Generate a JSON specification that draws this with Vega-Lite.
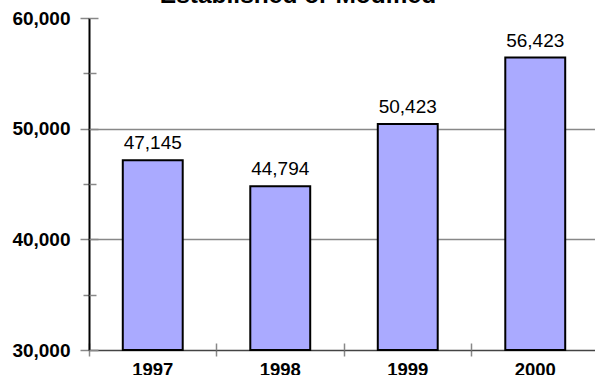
{
  "$schema": "https://vega.github.io/schema/vega-lite/v6.json",
  "autosize": {"type": "none"},
  "padding": {"left": 89, "top": 18, "right": 0, "bottom": 25},
  "width": 506,
  "height": 332,
  "title": {
    "text": "Established or Modified",
    "font": "Liberation Sans",
    "fontSize": 24.5,
    "fontWeight": "bold",
    "color": "black",
    "anchor": "middle",
    "frame": "group",
    "baseline": "alphabetic",
    "offset": 0,
    "dx": -44,
    "dy": 18
  },
  "data": {
    "values": [
      {"year": "1997", "value": 47145},
      {"year": "1998", "value": 44794},
      {"year": "1999", "value": 50423},
      {"year": "2000", "value": 56423}
    ]
  },
  "encoding": {
    "x": {
      "field": "year",
      "type": "nominal",
      "sort": null,
      "scale": {"range": [0, 510], "paddingInner": 0.53, "paddingOuter": 0.265}
    },
    "y": {
      "field": "value",
      "type": "quantitative",
      "scale": {"domain": [30000, 60000], "zero": false, "nice": false}
    }
  },
  "layer": [
    {
      "mark": {"type": "bar", "fill": "#aaaaff", "stroke": "black", "strokeWidth": 2},
      "encoding": {
        "x": {
          "field": "year",
          "type": "nominal",
          "sort": null,
          "axis": {
            "orient": "bottom",
            "title": null,
            "bandPosition": -0.5625,
            "tickSize": 6,
            "tickColor": "#888888",
            "tickWidth": 1.5,
            "domainColor": "#444444",
            "domainWidth": 1.5,
            "labelAngle": 0,
            "labelFont": "Liberation Sans",
            "labelFontSize": 18.5,
            "labelFontWeight": "bold",
            "labelColor": "black",
            "labelPadding": 4
          }
        },
        "y": {
          "field": "value",
          "type": "quantitative",
          "axis": {
            "orient": "left",
            "title": null,
            "values": [30000, 35000, 40000, 45000, 50000, 55000, 60000],
            "labelExpr": "datum.value % 10000 === 0 ? format(datum.value, ',') : ''",
            "labelFont": "Liberation Sans",
            "labelFontSize": 19,
            "labelFontWeight": "bold",
            "labelColor": "black",
            "labelPadding": 10,
            "tickSize": {"condition": {"test": "datum.value % 10000 === 0", "value": 9}, "value": 6},
            "tickColor": "#888888",
            "tickWidth": 1.5,
            "domainColor": "black",
            "domainWidth": 2,
            "grid": true,
            "gridColor": {"condition": {"test": "datum.value === 40000 || datum.value === 50000", "value": "#888888"}, "value": "transparent"},
            "gridWidth": 1.5
          }
        },
        "y2": {"datum": 30000}
      }
    },
    {
      "mark": {
        "type": "text",
        "font": "Liberation Sans",
        "fontSize": 19,
        "color": "black",
        "baseline": "alphabetic",
        "dy": -11
      },
      "encoding": {
        "text": {"field": "value", "type": "quantitative", "format": ","},
        "x": {
          "field": "year",
          "type": "nominal",
          "sort": null,
          "axis": {
            "orient": "bottom",
            "title": null,
            "bandPosition": -0.5625,
            "tickSize": -7,
            "tickColor": "#888888",
            "tickWidth": 1.5,
            "labels": false,
            "domain": false
          }
        },
        "y": {
          "field": "value",
          "type": "quantitative",
          "axis": {
            "orient": "left",
            "title": null,
            "values": [30000, 35000, 40000, 45000, 50000, 55000, 60000],
            "labels": false,
            "domain": false,
            "grid": false,
            "tickSize": {"condition": {"test": "datum.value % 10000 === 0", "value": -9}, "value": -7},
            "tickColor": "#888888",
            "tickWidth": 1.5
          }
        }
      }
    }
  ],
  "resolve": {"axis": {"x": "independent", "y": "independent"}},
  "config": {"view": {"stroke": null}}
}
